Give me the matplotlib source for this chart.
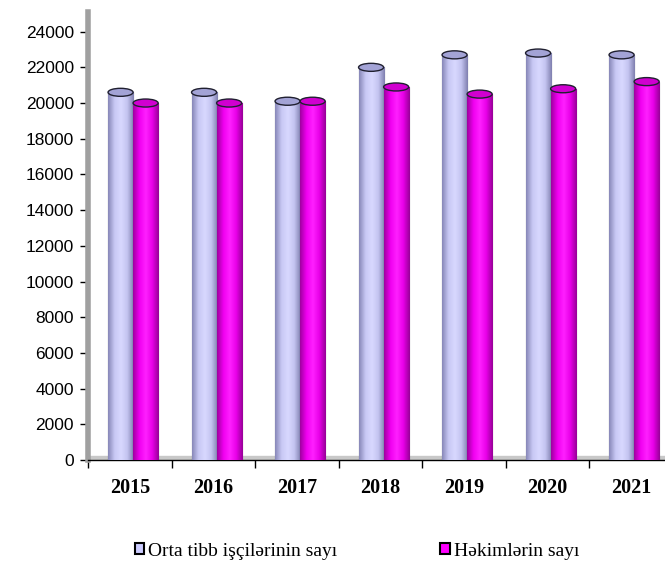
import matplotlib
matplotlib.use("Agg")
import matplotlib.pyplot as plt
import numpy as np
from matplotlib.patches import Ellipse, Patch
from matplotlib.colors import LinearSegmentedColormap

years = ["2015", "2016", "2017", "2018", "2019", "2020", "2021"]
orta = [20600, 20600, 20100, 22000, 22700, 22800, 22700]
hekim = [20000, 20000, 20100, 20900, 20500, 20800, 21200]
series_names = ["Orta tibb işçilərinin sayı", "Həkimlərin sayı"]
yticks = list(range(0, 24001, 2000))

fig = plt.figure(figsize=(6.65, 5.67), dpi=100)
ax = fig.add_axes([88/665, 107/567, 1 - 88/665, (460-12)/567])

x = np.arange(len(years))
w = 0.30
off = [-0.11, 0.19]
base_cols = ["#CCCCFF", "#FF00FF"]
top_cols = ["#A3A3D6", "#D000D0"]
cmaps = [
    LinearSegmentedColormap.from_list("l", ["#8888B8", "#C8C8F4", "#D8D8FF", "#C4C4F0", "#8080B0"]),
    LinearSegmentedColormap.from_list("m", ["#A000A0", "#F000F0", "#FF20FF", "#E800E8", "#980098"]),
]
ell_h = 450
grad = np.linspace(0, 1, 64).reshape(1, -1)

for s, vals in enumerate([orta, hekim]):
    bars = ax.bar(x + off[s], vals, width=w, color=base_cols[s], edgecolor="#303040",
                  linewidth=0.8, zorder=3 + s)
    for b, v in zip(bars, vals):
        im = ax.imshow(grad, cmap=cmaps[s], aspect="auto",
                       extent=(b.get_x(), b.get_x() + b.get_width(), 0, v),
                       zorder=3 + s + 0.1, interpolation="bilinear")
        im.set_clip_path(b)
        e = Ellipse((b.get_x() + b.get_width()/2, v), b.get_width(), ell_h,
                    facecolor=top_cols[s], edgecolor="#202030", linewidth=1.0,
                    zorder=3 + s + 0.2)
        ax.add_patch(e)

# floor
ax.axhspan(0, 250, xmin=0, xmax=1, color="#C8C8C8", zorder=2)

ax.set_yticks(yticks)
ax.set_yticklabels([str(t) for t in yticks], fontsize=12.5, family="Liberation Sans")
ax.set_xticks(x)
ax.set_xticklabels(years, fontsize=14.5, fontweight="bold", family="Liberation Serif")
ax.set_xticks(np.arange(-0.5, 6.0, 1), minor=True)
ax.tick_params(axis="x", which="major", length=0, pad=13)
ax.tick_params(axis="x", which="minor", length=6, width=1, color="black")
ax.tick_params(axis="y", length=6, width=1, pad=4)
ax.set_xlim(-0.5, 6.41)
ax.set_ylim(0, 25100)

for sp in ["top", "right"]:
    ax.spines[sp].set_visible(False)
ax.spines["left"].set_color("#A0A0A0")
ax.spines["left"].set_linewidth(4)
ax.spines["bottom"].set_color("black")
ax.spines["bottom"].set_linewidth(1)

handles = [Patch(facecolor=base_cols[0], edgecolor="black", linewidth=1.5),
           Patch(facecolor=base_cols[1], edgecolor="black", linewidth=1.5)]
fig.legend(handles, series_names, loc="center", bbox_to_anchor=(357/665, 1 - 551/567),
           ncol=2, frameon=False, prop={"family": "Liberation Serif", "size": 14},
           handlelength=0.5, handleheight=0.5, handletextpad=0.2, columnspacing=5.3)

fig.savefig("out.png", dpi=100)
